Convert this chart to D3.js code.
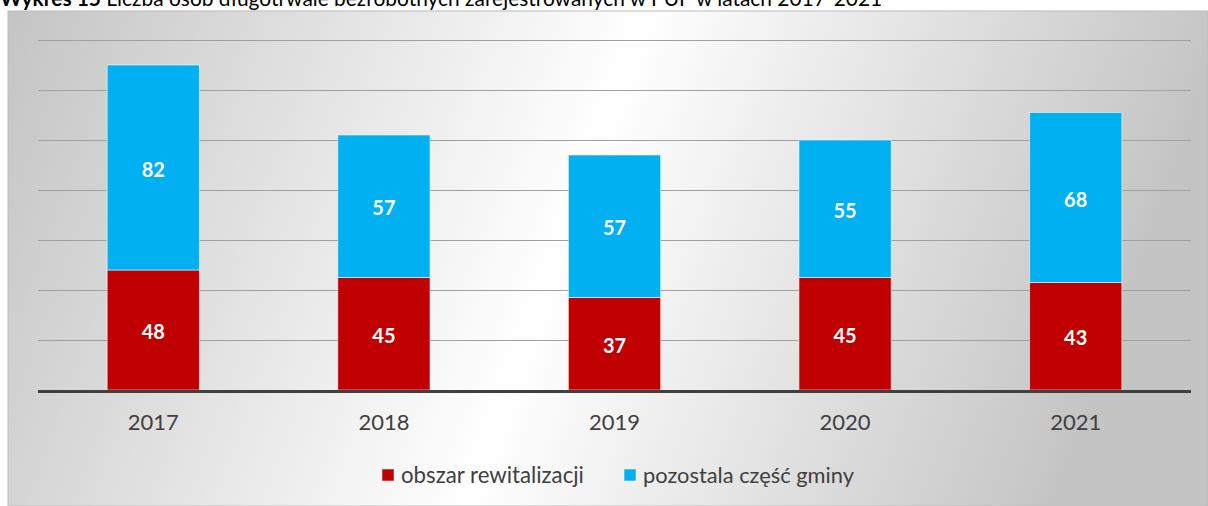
<!DOCTYPE html>
<html><head><meta charset="utf-8">
<script src="https://cdn.jsdelivr.net/npm/d3@7"></script>
<style>html,body{margin:0;padding:0;background:#fff;}svg{display:block;}</style>
</head><body>
<svg id="chart" width="1208" height="506"></svg>
<script>
const years = ["2017","2018","2019","2020","2021"];
const rewitalizacja = [48,45,37,45,43];
const pozostala = [82,57,57,55,68];
const seriesNames = ["obszar rewitalizacji","pozostala część gminy"];
const yTicks = [0,20,40,60,80,100,120,140];
const titleBold = "Wykres 15";
const titleRest = " Liczba osób długotrwale bezrobotnych zarejestrowanych w PUP w latach 2017-2021";

const FONT = "Lato, 'Open Sans', sans-serif";
const colors = ["#C00000","#00B0F0"];
const svg = d3.select("#chart");
const defs = svg.append("defs");
const grad = defs.append("linearGradient").attr("id","bg").attr("x1","0").attr("x2","1").attr("y1","0").attr("y2","0.15");
grad.append("stop").attr("offset","0").attr("stop-color","#c4c4c4");
grad.append("stop").attr("offset","0.52").attr("stop-color","#ffffff");
grad.append("stop").attr("offset","1").attr("stop-color","#c4c4c4");

svg.append("rect").attr("x",8).attr("y",11).attr("width",1200).attr("height",495)
  .attr("fill","url(#bg)").attr("stroke","#bcbcbc").attr("stroke-width",1);

// title (cut at top edge, as in the reference)
const title = svg.append("text").attr("x",0).attr("y",6).attr("font-family",FONT).attr("font-size",16).attr("fill","#000");
title.append("tspan").attr("font-weight","bold").text(titleBold);
title.append("tspan").text(titleRest);
{ const w = title.node().getComputedTextLength(); title.attr("font-size", 16*883/w); }

const x = d3.scaleBand().domain(years).range([38,1191]).paddingInner(0.6).paddingOuter(0.3);
const y = d3.scaleLinear().domain([0,140]).range([390,40]);

// gridlines
svg.append("g").selectAll("line").data(yTicks.filter(d=>d>0)).join("line")
  .attr("x1",38).attr("x2",1191).attr("y1",d=>y(d)+0.5).attr("y2",d=>y(d)+0.5)
  .attr("stroke","#a0a0a0").attr("stroke-width",1);

const stacked = years.map((yr,i)=>({yr, segs:[
  {v:rewitalizacja[i], y0:0, y1:rewitalizacja[i], c:colors[0]},
  {v:pozostala[i], y0:rewitalizacja[i], y1:rewitalizacja[i]+pozostala[i], c:colors[1]}
]}));

const g = svg.append("g");
stacked.forEach(d=>{
  d.segs.forEach(s=>{
    g.append("rect").attr("x",x(d.yr)).attr("width",x.bandwidth())
      .attr("y",y(s.y1)).attr("height",y(s.y0)-y(s.y1))
      .attr("fill",s.c).attr("stroke","#ffffff").attr("stroke-opacity",0.55).attr("stroke-width",1);
    g.append("text").attr("x",x(d.yr)+x.bandwidth()/2).attr("y",(y(s.y0)+y(s.y1))/2+2)
      .attr("dy","0.36em").attr("text-anchor","middle")
      .attr("font-family",FONT).attr("font-weight","bold").attr("font-size",20)
      .attr("fill","#fff").text(s.v);
  });
});

// baseline
svg.append("line").attr("x1",38).attr("x2",1191).attr("y1",y(0)+1.5).attr("y2",y(0)+1.5)
  .attr("stroke","#404040").attr("stroke-width",3);

// x axis labels
const xAxis = d3.axisBottom(x).tickSize(0).tickPadding(0);
const ax = svg.append("g").attr("transform","translate(0,415)").call(xAxis);
ax.select(".domain").remove();
ax.selectAll("text").attr("font-family",FONT).attr("font-size",22)
  .attr("fill","#404040").attr("dy","0.71em").attr("y",-1);

// legend
const legend = svg.append("g");
const lx = [382, 624];
seriesNames.forEach((n,i)=>{
  legend.append("rect").attr("x",lx[i]).attr("y",469).attr("width",12).attr("height",12)
    .attr("fill",colors[i]).attr("stroke","#ffffff").attr("stroke-opacity",0.5);
  const t = legend.append("text").attr("x",lx[i]+19).attr("y",475).attr("dy","0.35em")
    .attr("font-family",FONT).attr("font-size",19).attr("fill","#404040").text(n);
  const target = i===0 ? 183 : 211;
  const w = t.node().getComputedTextLength();
  t.attr("font-size", 19*target/w);
});
</script>
</body></html>
